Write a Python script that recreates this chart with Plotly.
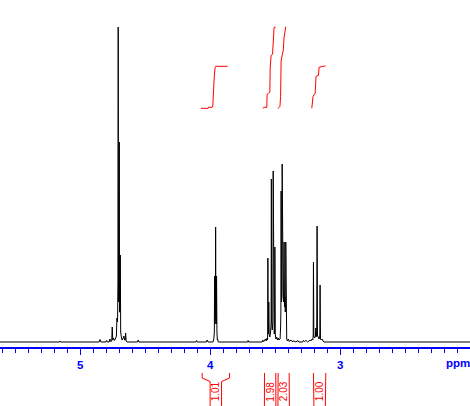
import plotly.graph_objects as go

# ---------------- data ----------------
# 1H NMR spectrum: chemical shift (ppm) and intensity (arbitrary units)
spec_ppm = [
    5.618, 5.160, 5.156, 5.152,
    4.856, 4.848, 4.842, 4.802, 4.797, 4.792, 4.778, 4.772, 4.767,
    4.758, 4.754, 4.750, 4.744, 4.738, 4.730,
    4.722, 4.718, 4.713, 4.710, 4.708, 4.706,
    4.702, 4.700, 4.698, 4.694, 4.692, 4.689,
    4.684, 4.678, 4.670, 4.664, 4.659, 4.654, 4.651, 4.647, 4.640,
    4.560, 4.554, 4.548, 4.110, 4.105, 4.100, 4.030, 4.023, 4.016,
    3.978, 3.972, 3.968, 3.966, 3.963, 3.960, 3.958, 3.956, 3.953, 3.951, 3.948, 3.945, 3.943, 3.938,
    3.712, 3.708, 3.704,
    3.600, 3.595, 3.590, 3.582, 3.575, 3.568, 3.562, 3.559,
    3.557, 3.556, 3.554, 3.551, 3.549, 3.546,
    3.541, 3.535, 3.531, 3.529, 3.527,
    3.522, 3.518, 3.515, 3.512,
    3.507, 3.504, 3.502, 3.499,
    3.494, 3.488, 3.482, 3.476, 3.470,
    3.462, 3.458, 3.456, 3.454, 3.451,
    3.448, 3.446, 3.444, 3.441, 3.438,
    3.435, 3.433, 3.431, 3.428, 3.425, 3.422,
    3.419, 3.418, 3.415, 3.411, 3.405, 3.398, 3.392,
    3.385, 3.378, 3.370, 3.355, 3.340, 3.325, 3.318,
    3.288, 3.283, 3.275, 3.262, 3.250, 3.240, 3.232, 3.225, 3.216, 3.210,
    3.207, 3.205, 3.202, 3.196, 3.190, 3.187, 3.184,
    3.180, 3.177, 3.174, 3.168, 3.163, 3.158,
    3.156, 3.154, 3.151, 3.145, 3.138, 3.131, 3.125,
    2.000,
]
spec_intensity = [
    0, 0, 1, 0,
    0, 2.5, 0, 0, 1.5, 0, 0, 3, 0.5,
    1, 15, 2, 4, 1.5, 3,
    6, 24, 20, 60, 315, 40,
    45, 200, 30, 30, 87, 10,
    5, 2, 4, 6, 2, 2, 9, 1, 0,
    0, 2, 0, 0, 1.5, 0, 0, 2, 0,
    0, 3, 10, 66, 18, 25, 115, 25, 18, 66, 10, 2, 3, 0,
    0, 1.5, 0,
    0, 2, 0.5, 1, 3, 1, 4, 2,
    10, 84, 8, 10, 40, 8,
    5, 10, 20, 163, 20,
    12, 20, 171, 15,
    8, 15, 95, 8,
    3, 5, 2, 4, 2,
    3, 15, 30, 151, 40,
    50, 178, 60, 132, 45,
    40, 60, 100, 35, 45, 30,
    40, 100, 10, 3, 1, 3, 0.5,
    1, 2, 0.5, 1, 0, 1.5, 0,
    0, 1.5, 0.5, 1.5, 0, 1, 2, 1, 3, 2,
    6, 80, 5, 4, 6, 14, 5,
    10, 116, 6, 5, 3, 4,
    8, 57, 3, 2, 3, 1, 0,
    0,
]

# integral curves (ppm, running integral level)
int1_ppm = [4.072, 4.015, 4.013, 3.985, 3.980, 3.977, 3.969, 3.962, 3.958, 3.946, 3.866]
int1_level = [233.7, 233.7, 234.7, 234.7, 236.0, 245.7, 264.7, 274.7, 275.7, 275.7, 275.7]
int2_ppm = [3.595, 3.585, 3.564, 3.562, 3.551, 3.541, 3.538, 3.531, 3.520, 3.515, 3.508, 3.497]
int2_level = [233.7, 234.7, 234.7, 247.7, 248.7, 249.7, 274.0, 286.7, 287.7, 299.3, 314.7, 314.7]
int3_ppm = [3.479, 3.463, 3.458, 3.454, 3.446, 3.438, 3.431, 3.423, 3.418]
int3_level = [233.3, 235.7, 245.7, 281.0, 286.7, 291.0, 304.7, 315.0, 315.3]
int4_ppm = [3.218, 3.208, 3.192, 3.185, 3.166, 3.162, 3.131, 3.112]
int4_level = [233.7, 245.7, 248.7, 265.7, 266.7, 274.7, 275.7, 276.0]

# integration regions and values
int_left = [4.062, 3.582, 3.477, 3.205]
int_right = [3.851, 3.495, 3.392, 3.110]
int_values = ["1.01", "1.98", "2.03", "1.00"]

# axis ticks
tick_vals = [5, 4, 3]
tick_text = ["5", "4", "3"]
x_range = [5.618, 2.0]

# ---------------- figure ----------------
W, H = 470, 406
BLUE = "#0000ff"
RED = "#ff0000"

fig = go.Figure()

fig.add_trace(go.Scatter(
    x=spec_ppm, y=spec_intensity, mode="lines",
    line=dict(color="black", width=1), xaxis="x", yaxis="y",
    hoverinfo="skip",
))

for xs, ys in [(int1_ppm, int1_level), (int2_ppm, int2_level),
               (int3_ppm, int3_level), (int4_ppm, int4_level)]:
    fig.add_trace(go.Scatter(
        x=xs, y=ys, mode="lines", line=dict(color=RED, width=1),
        xaxis="x", yaxis="y", hoverinfo="skip",
    ))

# integral brackets beneath the axis
half_w = 0.044
bx, by = [], []
for L, R in zip(int_left, int_right):
    c = (L + R) / 2
    bx += [L, L, c + half_w, c + half_w, None]
    by += [32, 27, 23.5, -1, None]
    bx += [R, R, c - half_w, c - half_w, None]
    by += [32, 27, 23.5, -1, None]
fig.add_trace(go.Scatter(
    x=bx, y=by, mode="lines", line=dict(color=RED, width=1),
    xaxis="x", yaxis="y2", hoverinfo="skip",
))

annotations = []
for L, R, v in zip(int_left, int_right, int_values):
    annotations.append(dict(
        x=(L + R) / 2, y=13.5, xref="x", yref="y2", text=v,
        textangle=-90, showarrow=False,
        font=dict(family="Arial", size=10, color=RED),
        xanchor="center", yanchor="middle",
    ))
annotations.append(dict(
    x=458 / W, y=(H - 363) / H, xref="paper", yref="paper", text="ppm",
    showarrow=False, font=dict(family="Arial", size=11.5, color=BLUE, weight="bold"),
    xanchor="center", yanchor="middle",
))

fig.update_layout(
    width=W, height=H, autosize=False,
    margin=dict(l=0, r=0, t=0, b=0),
    paper_bgcolor="white", plot_bgcolor="white",
    showlegend=False,
    annotations=annotations,
    xaxis=dict(
        range=x_range, anchor="y",
        showline=True, linecolor=BLUE, linewidth=1.5,
        ticks="outside", ticklen=6, tickwidth=1, tickcolor=BLUE,
        tickmode="array", tickvals=tick_vals, ticktext=tick_text,
        tickfont=dict(family="Arial", size=11.5, color=BLUE, weight="bold"),
        showgrid=False, zeroline=False, fixedrange=True,
        minor=dict(tickmode="linear", tick0=0, dtick=0.1, ticks="outside",
                   ticklen=4, tickwidth=1, tickcolor=BLUE, showgrid=False),
    ),
    yaxis=dict(domain=[59 / H, 1], range=[-5, 342], visible=False, fixedrange=True),
    yaxis2=dict(domain=[0, 37 / H], range=[-1, 36], visible=False,
                anchor="x", fixedrange=True),
)

fig.write_html(
    "out.html",
    config={"displayModeBar": False},
    post_script="document.body.style.margin='0px';document.body.style.overflow='hidden';",
)
